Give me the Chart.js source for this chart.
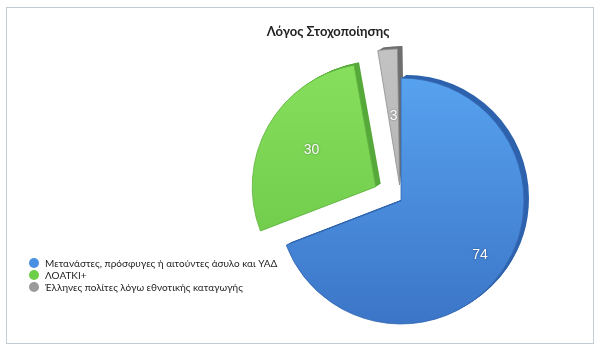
<!DOCTYPE html>
<html><head><meta charset="utf-8">
<script src="https://cdn.jsdelivr.net/npm/chart.js@4.4.0/dist/chart.umd.min.js"></script>
<style>html,body{margin:0;padding:0;background:#fff;}#wrap{width:600px;height:355px;position:relative;}</style>
</head><body><div id="wrap"><canvas id="c" width="600" height="355"></canvas></div>
<script>
// ---- data ----
const chartTitle = 'Λόγος Στοχοποίησης';
const categories = ['Μετανάστες, πρόσφυγες ή αιτούντες άσυλο και ΥΑΔ', 'ΛΟΑΤΚΙ+', 'Έλληνες πολίτες λόγω εθνοτικής καταγωγής'];
const values = [74, 30, 3];

// ---- styles ----
const topColors = ['#5aa7f4', '#8ae35f', '#c4c4c4'];
const bottomColors = ['#3b74c6', '#69c446', '#a9a9a9'];
const sideColors = ['#2e62ad', '#56a93a', '#6f6f6f'];
const legendColors = ['#4a90e2', '#6ccf47', '#9a9a9a'];
const explode = [0, 116, 64];
const labelFactor = [0.78, 0.6, 0.56];
const FONT = 'Lato, "Open Sans", "Noto Sans", sans-serif';

function sliceFill(c) {
  const i = c.dataIndex;
  const chart = c.chart;
  if (i === undefined) return topColors[0];
  const g = chart.ctx.createLinearGradient(0, 50, 0, 330);
  g.addColorStop(0, topColors[i]);
  g.addColorStop(1, bottomColors[i]);
  return g;
}

const depthPlugin = {
  id: 'depth',
  beforeDatasetsDraw(chart) {
    const meta = chart.getDatasetMeta(0);
    const ctx = chart.ctx;
    for (let k = 5; k >= 1; k--) {
      meta.data.forEach((el, i) => {
        const fake = Object.create(el);
        fake.options = Object.assign({}, el.options, {backgroundColor: sideColors[i], borderColor: sideColors[i], borderWidth: 0});
        ctx.save();
        ctx.translate(k * 1.0, -k * 0.6);
        fake.draw(ctx);
        ctx.restore();
      });
    }
  }
};

const decorPlugin = {
  id: 'decor',
  beforeDraw(chart) {
    const ctx = chart.ctx;
    ctx.save();
    ctx.strokeStyle = '#c3ccd3';
    ctx.lineWidth = 1;
    ctx.strokeRect(6.5, 7.5, 587, 336);
    ctx.restore();
  },
  afterDatasetsDraw(chart) {
    const ctx = chart.ctx;
    const meta = chart.getDatasetMeta(0);
    ctx.save();
    ctx.font = '14px "Liberation Sans", Arial, sans-serif';
    ctx.textAlign = 'center';
    ctx.textBaseline = 'middle';
    meta.data.forEach((el, i) => {
      const mid = (el.startAngle + el.endAngle) / 2;
      const off = (el.options.offset || 0) / 4;
      const d = off + el.outerRadius * labelFactor[i];
      const x = el.x + Math.cos(mid) * d;
      const y = el.y + Math.sin(mid) * d;
      ctx.shadowColor = 'rgba(0,0,0,0.45)';
      ctx.shadowBlur = 2;
      ctx.fillStyle = '#ffffff';
      ctx.fillText(String(values[i]), x, y);
    });
    ctx.restore();
  },
  afterDraw(chart) {
    const ctx = chart.ctx;
    ctx.save();
    ctx.fillStyle = '#222';
    ctx.font = 'bold 13px ' + FONT;
    ctx.textAlign = 'center';
    ctx.textBaseline = 'middle';
    ctx.fillText(chartTitle, 328, 32);
    ctx.font = '10px ' + FONT;
    ctx.textAlign = 'left';
    categories.forEach((t, i) => {
      const y = 263 + i * 12;
      ctx.fillStyle = legendColors[i];
      ctx.beginPath();
      ctx.arc(34, y, 5, 0, Math.PI * 2);
      ctx.fill();
      ctx.fillStyle = '#1e1e1e';
      ctx.fillText(t, 45, y + 0.5);
    });
    ctx.restore();
  }
};

new Chart(document.getElementById('c'), {
  type: 'pie',
  data: {
    labels: categories,
    datasets: [{
      data: values,
      backgroundColor: sliceFill,
      borderColor: ['#3467b0', '#5fb23f', '#8d8d8d'],
      borderWidth: 0.8,
      offset: explode,
      clip: false
    }]
  },
  options: {
    responsive: false,
    animation: false,
    radius: 123,
    rotation: 0,
    layout: {padding: {left: 251, right: 49, top: 61, bottom: 14}},
    plugins: {legend: {display: false}, title: {display: false}, tooltip: {enabled: false}}
  },
  plugins: [depthPlugin, decorPlugin]
});
</script></body></html>
